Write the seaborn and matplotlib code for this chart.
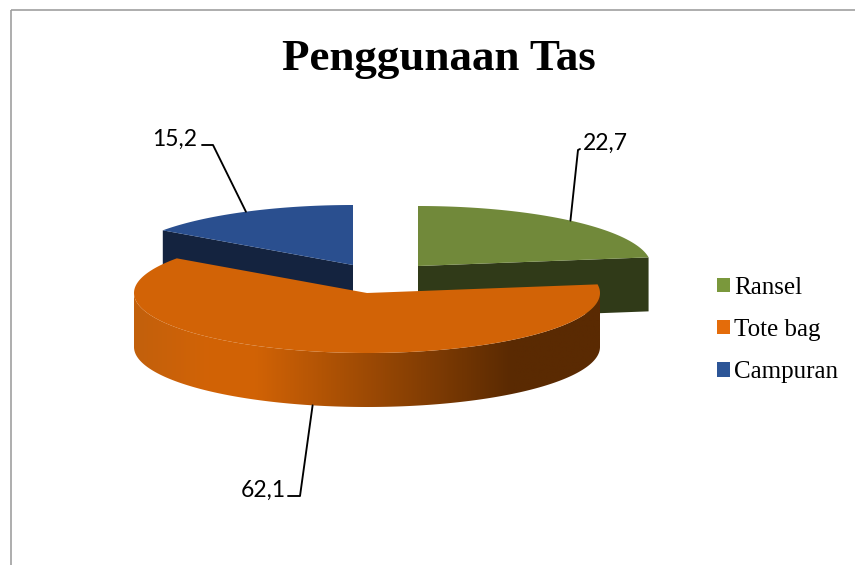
import numpy as np
import matplotlib
matplotlib.use('Agg')
import matplotlib.pyplot as plt
from matplotlib.colors import to_rgb
from matplotlib.patches import Patch, Polygon, Rectangle
import seaborn as sns

# Data
categories = ['Ransel', 'Tote bag', 'Campuran']
values = [22.7, 62.1, 15.2]
title = 'Penggunaan Tas'

# Colours
top_colors = ['#71893a', '#d26306', '#2a4f8f']
face_colors = ['#303a18', '#5a2a02', '#14233f']
legend_colors = ['#7a983c', '#e46c0a', '#2c5597']

# Projected pie geometry, in pixels of the picture
rx, ry, depth = 233, 60, 54
centers = [(418, 266), (367, 293), (353, 265)]
elbows = [[(578, 150), (580, 149)], [(300, 496), (288, 496)], [(213, 145), (202, 145)]]
label_pos = [(583, 150), (286, 497), (197, 146)]
label_ha = ['left', 'right', 'right']

sns.set_theme(style='white')

fig = plt.figure(figsize=(8.55, 5.65), dpi=100)
ax = fig.add_axes([0, 0, 1, 1])
ax.set_xlim(0, 855)
ax.set_ylim(565, 0)
ax.axis('off')


def arc(cx, cy, a, b, drop=0):
    # Angles are in degrees, clockwise from the top of the pie
    t = np.radians(np.linspace(a, b, 200))
    return np.column_stack([cx + rx * np.sin(t), cy - ry * np.cos(t) + drop])


# Chart border
ax.add_patch(Rectangle((11, 10), 900, 700, fill=False, ec='#a0a0a0', lw=1.2))

shares = np.array(values) / sum(values) * 360
ends = np.cumsum(shares)
starts = ends - shares

# Back slices first, the big slice goes on top of them
for i in [2, 0]:
    cx, cy = centers[i]
    cut = starts[i] if i == 2 else ends[i]
    outer = arc(cx, cy, cut, cut + 1e-6)[0]
    ax.add_patch(Polygon([(cx, cy), outer, outer + (0, depth), (cx, cy + depth)],
                         fc=face_colors[i], ec='none', zorder=2))
    top = np.vstack([[(cx, cy)], arc(cx, cy, starts[i], ends[i])])
    ax.add_patch(Polygon(top, fc=top_colors[i], ec='none', zorder=3))

# Rim of the big slice, with the shading running left to right
cx, cy = centers[1]
rim = np.vstack([arc(cx, cy, 90, 270), arc(cx, cy, 270, 90, drop=depth)])
rim_patch = Polygon(rim, fc='none', ec='none', transform=ax.transData)
ax.add_patch(rim_patch)
shade = sns.blend_palette(['#c2600c', '#d26306', '#d26306', '#5a2a02', '#5a2a02'], n_colors=5)
stops = [0, 0.16, 0.26, 0.81, 1]
xs = np.linspace(0, 1, 400)
grad = np.array([np.interp(xs, stops, [to_rgb(c)[k] for c in shade]) for k in range(3)]).T[None, :, :]
im = ax.imshow(grad, extent=(cx - rx, cx + rx, cy + ry + depth, cy - ry),
               aspect='auto', zorder=4)
im.set_clip_path(rim_patch)
ax.set_xlim(0, 855)
ax.set_ylim(565, 0)

top = np.vstack([[(cx, cy)], arc(cx, cy, starts[1], ends[1])])
ax.add_patch(Polygon(top, fc=top_colors[1], ec='none', zorder=5))

# Data labels with leader lines
for i, v in enumerate(values):
    mid = (starts[i] + ends[i]) / 2
    cx, cy = centers[i]
    drop = depth if i == 1 else 0
    anchor = arc(cx, cy, mid, mid + 1e-6, drop=drop)[0]
    line = np.vstack([anchor, elbows[i]])
    ax.plot(line[:, 0], line[:, 1], color='black', lw=1.35, zorder=6)
    ax.text(label_pos[i][0], label_pos[i][1], str(v).replace('.', ','),
            family='Lato', fontsize=16.5, color='black', ha=label_ha[i], va='baseline', zorder=7)

ax.text(438.5, 70, title, family='Liberation Serif', fontweight='bold', fontsize=32.4,
        color='black', ha='center', va='baseline')

handles = [Patch(fc=c, ec='none', label=n) for c, n in zip(legend_colors, categories)]
ax.legend(handles=handles, loc='center left', bbox_to_anchor=(717, 330), bbox_transform=ax.transData,
          frameon=False, prop={'family': 'Liberation Serif', 'size': 18}, labelcolor='black',
          handlelength=0.52, handleheight=0.52, handletextpad=0.16, labelspacing=0.81,
          borderpad=0, borderaxespad=0)

fig.savefig('out.png', dpi=100)
